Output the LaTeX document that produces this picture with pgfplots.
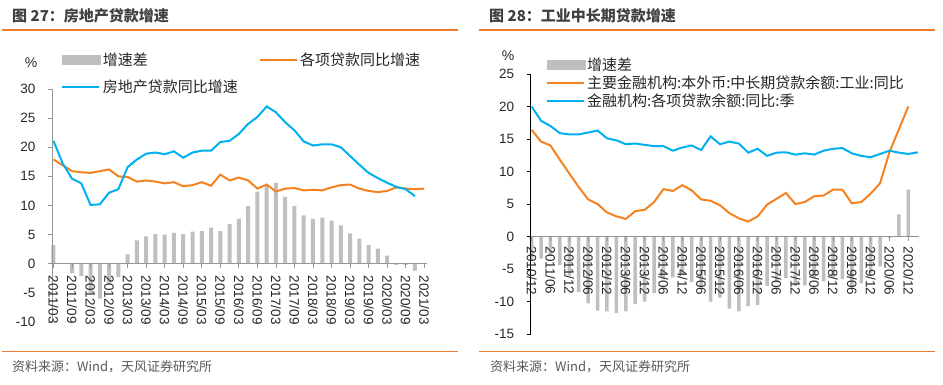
\documentclass[border=0pt]{standalone}
\usepackage{fontspec}
\setmainfont{Liberation Sans}
\newfontfamily\cjk{Noto Sans CJK SC}
\usepackage{pgfplots}
\pgfplotsset{compat=1.18}
\definecolor{barGray}{RGB}{191,191,191}
\definecolor{lineOrange}{RGB}{245,130,32}
\definecolor{lineBlue}{RGB}{0,176,240}
\definecolor{axisGray}{RGB}{150,150,150}
\definecolor{titleGray}{RGB}{64,64,64}
\definecolor{ruleOrange}{RGB}{237,125,49}
\definecolor{srcGray}{RGB}{89,89,89}
\begin{document}
\begin{tikzpicture}
\path[use as bounding box] (0pt,0pt) rectangle (943pt,384pt);
% titles and rules
\node[anchor=west,text=titleGray,font=\cjk\bfseries\fontsize{15}{15}\selectfont,inner sep=0pt] at (12pt,368pt) {图 27：房地产贷款增速};
\node[anchor=west,text=titleGray,font=\cjk\bfseries\fontsize{15}{15}\selectfont,inner sep=0pt] at (489pt,368pt) {图 28：工业中长期贷款增速};
\draw[ruleOrange,line width=1.2pt] (2pt,354pt) -- (458pt,354pt);
\draw[ruleOrange,line width=1.2pt] (479pt,354pt) -- (935pt,354pt);
\draw[ruleOrange,line width=0.9pt] (2pt,32.5pt) -- (458pt,32.5pt);
\draw[ruleOrange,line width=0.9pt] (479pt,32.5pt) -- (935pt,32.5pt);
\node[anchor=west,text=srcGray,font=\cjk\fontsize{13}{13}\selectfont,inner sep=0pt] at (12pt,17.5pt) {资料来源：Wind，天风证券研究所};
\node[anchor=west,text=srcGray,font=\cjk\fontsize{13}{13}\selectfont,inner sep=0pt] at (490pt,17.5pt) {资料来源：Wind，天风证券研究所};
\node[font=\fontsize{14}{14}\selectfont,text=black!85] at (31pt,321.5pt) {\%};
\node[font=\fontsize{14}{14}\selectfont,text=black!85] at (508pt,328.5pt) {\%};

\pgfplotsset{
  common/.style={
    scale only axis,
    axis on top,
    axis x line=middle, axis y line=left,
    hide obscured x ticks=false, hide obscured y ticks=false,
    tick align=outside, major tick length=4pt,
    /pgf/number format/assume math mode=true,
    xticklabel style={rotate=-90, anchor=west, font=\fontsize{13.5}{13.5}\selectfont, text=black!85, inner sep=2pt},
    yticklabel style={font=\fontsize{13.5}{13.5}\selectfont, text=black!85, xshift=-9pt},
    legend cell align=left,
    legend style={draw=none, fill=none, font=\cjk\fontsize{15}{15}\selectfont, text=black!85,
      nodes={inner sep=1.5pt}},
    clip=false,
  },
  barleg/.style={legend image code/.code={\fill[barGray] (0pt,-5pt) rectangle (39pt,5pt);}},
  lineleg/.style={legend image code/.code={\draw[line width=2.2pt,#1] (0pt,0pt) -- (37pt,0pt);}},
}

% ---------------- left chart ----------------
\begin{axis}[common,
  at={(52pt,62pt)}, anchor=south west,
  width=375pt, height=233pt,
  xmin=-0.16, xmax=40.3, ymin=-10, ymax=30,
  axis line style={-, draw=axisGray, line width=0.8pt},
  tick style={draw=axisGray, line width=0.8pt},
  xtick={0,2,...,40},
  xticklabels={2011/03,2011/09,2012/03,2012/09,2013/03,2013/09,2014/03,2014/09,2015/03,2015/09,2016/03,2016/09,2017/03,2017/09,2018/03,2018/09,2019/03,2019/09,2020/03,2020/09,2021/03},
  xticklabel style={inner sep=8pt},
  ytick={-10,-5,...,30},
  legend columns=2,
  legend style={at={(axis description cs:0.016,1.172)}, anchor=north west, row sep=10pt,
    /tikz/every even column/.append style={column sep=20pt}},
]
\addplot[ybar, bar width=4pt, fill=barGray, draw=none, barleg] coordinates {
(0,3.2)(1,0)(2,-1.6)(3,-2.1)(4,-5.0)(5,-6.0)(6,-3.5)(7,-2.3)(8,1.6)(9,4.0)
(10,4.7)(11,5.1)(12,5.0)(13,5.3)(14,5.1)(15,5.5)(16,5.6)(17,6.2)(18,5.6)(19,6.8)
(20,7.7)(21,9.9)(22,12.4)(23,13.5)(24,13.9)(25,11.5)(26,9.9)(27,8.3)(28,7.7)(29,7.9)
(30,7.4)(31,6.6)(32,5.2)(33,4.3)(34,3.2)(35,2.6)(36,1.4)(37,-0.2)(38,-0.2)(39,-1.2)};
\addlegendentry{增速差}
\addplot[lineOrange, line width=2pt, mark=none, lineleg=lineOrange] coordinates {
(0,17.9)(1,16.9)(2,15.9)(3,15.7)(4,15.6)(5,15.9)(6,16.2)(7,15.0)(8,14.9)(9,14.1)
(10,14.3)(11,14.1)(12,13.8)(13,14.0)(14,13.3)(15,13.5)(16,14.0)(17,13.4)(18,15.3)(19,14.3)
(20,14.8)(21,14.3)(22,12.9)(23,13.6)(24,12.4)(25,12.9)(26,13.0)(27,12.6)(28,12.7)(29,12.6)
(30,13.1)(31,13.5)(32,13.6)(33,12.9)(34,12.5)(35,12.3)(36,12.5)(37,13.1)(38,12.9)(39,12.8)(40,12.9)};
\addlegendentry{各项贷款同比增速}
\addplot[lineBlue, line width=2pt, mark=none, lineleg=lineBlue] coordinates {
(0,21.1)(1,17.2)(2,14.6)(3,13.8)(4,10.1)(5,10.2)(6,12.2)(7,12.8)(8,16.6)(9,17.9)
(10,18.9)(11,19.1)(12,18.8)(13,19.3)(14,18.2)(15,19.1)(16,19.4)(17,19.4)(18,20.9)(19,21.1)
(20,22.3)(21,24.0)(22,25.2)(23,27.0)(24,26.0)(25,24.3)(26,22.9)(27,21.0)(28,20.3)(29,20.5)
(30,20.5)(31,20.0)(32,18.5)(33,17.0)(34,15.6)(35,14.7)(36,13.9)(37,13.2)(38,12.8)(39,11.6)};
\addlegendentry{房地产贷款同比增速}
\end{axis}

% ---------------- right chart ----------------
\begin{axis}[common,
  at={(530.7pt,50pt)}, anchor=south west,
  width=388pt, height=260pt,
  xmin=-0.1, xmax=41.1, ymin=-15, ymax=25,
  x axis line style={-, draw=axisGray, line width=0.8pt},
  y axis line style={-, draw=black, line width=0.8pt},
  xtick style={draw=axisGray, line width=0.8pt},
  ytick style={draw=black, line width=0.8pt},
  xtick={0,2,...,40},
  xticklabels={2010/12,2011/06,2011/12,2012/06,2012/12,2013/06,2013/12,2014/06,2014/12,2015/06,2015/12,2016/06,2016/12,2017/06,2017/12,2018/06,2018/12,2019/06,2019/12,2020/06,2020/12},
  xticklabel style={inner sep=6pt},
  ytick={-15,-10,...,25},
  legend style={at={(axis description cs:0.03,1.077)}, anchor=north west, row sep=1pt},
]
\addplot[ybar, bar width=3.5pt, fill=barGray, draw=none, barleg] coordinates {
(0,-3.6)(1,-3.4)(2,-3.0)(3,-4.4)(4,-6.0)(5,-8.5)(6,-10.3)(7,-11.4)(8,-11.5)(9,-11.8)
(10,-11.5)(11,-10.4)(12,-10.0)(13,-8.7)(14,-6.6)(15,-6.3)(16,-5.8)(17,-7.0)(18,-7.6)(19,-10.0)
(20,-9.4)(21,-11.1)(22,-11.5)(23,-10.7)(24,-10.5)(25,-7.6)(26,-7.1)(27,-6.4)(28,-7.6)(29,-7.5)
(30,-6.4)(31,-6.9)(32,-6.3)(33,-6.5)(34,-7.7)(35,-7.2)(36,-5.6)(37,-4.6)(38,-0.2)(39,3.4)(40,7.2)};
\addlegendentry{增速差}
\addplot[lineOrange, line width=2pt, mark=none, lineleg=lineOrange] coordinates {
(0,16.4)(1,14.6)(2,14.0)(3,11.8)(4,9.7)(5,7.6)(6,5.7)(7,5.0)(8,3.7)(9,3.1)
(10,2.7)(11,3.9)(12,4.1)(13,5.3)(14,7.3)(15,7.0)(16,7.9)(17,7.1)(18,5.7)(19,5.5)
(20,4.8)(21,3.6)(22,2.8)(23,2.3)(24,3.1)(25,4.9)(26,5.8)(27,6.7)(28,5.0)(29,5.3)
(30,6.2)(31,6.3)(32,7.2)(33,7.2)(34,5.1)(35,5.3)(36,6.6)(37,8.2)(38,13.0)(39,16.5)(40,20.0)};
\addlegendentry{主要金融机构:本外币:中长期贷款余额:工业:同比}
\addplot[lineBlue, line width=2pt, mark=none, lineleg=lineBlue] coordinates {
(0,20.0)(1,17.8)(2,17.0)(3,15.9)(4,15.7)(5,15.7)(6,16.0)(7,16.3)(8,15.1)(9,14.8)
(10,14.2)(11,14.3)(12,14.1)(13,13.9)(14,13.9)(15,13.2)(16,13.7)(17,14.0)(18,13.3)(19,15.4)
(20,14.2)(21,14.6)(22,14.3)(23,12.9)(24,13.5)(25,12.4)(26,12.9)(27,12.95)(28,12.6)(29,12.8)
(30,12.6)(31,13.2)(32,13.5)(33,13.6)(34,12.8)(35,12.4)(36,12.2)(37,12.7)(38,13.2)(39,12.9)(40,12.7)(41,12.95)};
\addlegendentry{金融机构:各项贷款余额:同比:季}
\end{axis}
\end{tikzpicture}
\end{document}
